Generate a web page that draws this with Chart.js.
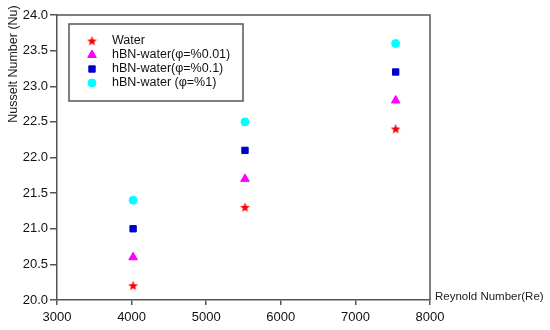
<!DOCTYPE html>
<html><head><meta charset="utf-8">
<script src="https://cdn.jsdelivr.net/npm/chart.js@4/dist/chart.umd.min.js"></script>
<style>html,body{margin:0;padding:0;background:#fff;}#wrap{width:550px;height:330px;}</style>
</head><body><div id="wrap"><canvas id="c" width="550" height="330"></canvas></div>
<script>
const reynolds = [4020, 5520, 7540];
const water = [20.2, 21.3, 22.4];
const hbn001 = [20.6, 21.7, 22.8];
const hbn01 = [21.0, 22.1, 23.2];
const hbn1 = [21.4, 22.5, 23.6];
const seriesNames = ['Water', 'hBN-water(φ=%0.01)', 'hBN-water(φ=%0.1)', 'hBN-water (φ=%1)'];
const xTitle = 'Reynold Number(Re)';
const yTitle = 'Nusselt Number (Nu)';

function starImg(color){
  const c = document.createElement('canvas'); c.width = 11; c.height = 11;
  const g = c.getContext('2d'); g.fillStyle = color; g.beginPath();
  for(let k=0;k<10;k++){
    const r = k%2===0 ? 5.2 : 2.2;
    const ang = -Math.PI/2 + k*Math.PI/5;
    const px = 5.5 + r*Math.cos(ang), py = 5.8 + r*Math.sin(ang);
    if(k===0) g.moveTo(px,py); else g.lineTo(px,py);
  }
  g.closePath(); g.fill();
  return c;
}

const styles = [
  {c:'#ff0000', s:starImg('#ff0000'), r:5},
  {c:'#ff00ff', s:'triangle', r:5},
  {c:'#0000cc', s:'rect', r:4.5},
  {c:'#00ffff', s:'circle', r:4}
];
const vals = [water, hbn001, hbn01, hbn1];
const FONT = "'Liberation Sans', Arial, sans-serif";

const datasets = vals.map((v,i)=>({
  label: seriesNames[i],
  data: reynolds.map((x,j)=>({x:x, y:v[j]})),
  pointStyle: styles[i].s,
  pointRadius: styles[i].r,
  pointHoverRadius: styles[i].r,
  backgroundColor: styles[i].c,
  borderColor: styles[i].c,
  borderWidth: 1,
  showLine: false
}));

const deco = {
  id:'deco',
  afterDraw(chart){
    const ctx = chart.ctx, a = chart.chartArea;
    ctx.save();
    ctx.strokeStyle = '#555'; ctx.lineWidth = 1.5;
    ctx.beginPath();
    ctx.moveTo(a.left, a.top); ctx.lineTo(a.right, a.top); ctx.lineTo(a.right, a.bottom);
    ctx.stroke();
    const lx = 69, ly = 24, lw = 174, lh = 77;
    ctx.fillStyle = '#fff';
    ctx.fillRect(lx, ly, lw, lh);
    ctx.strokeRect(lx, ly, lw, lh);
    ctx.font = '12.5px ' + FONT;
    ctx.textBaseline = 'middle'; ctx.textAlign = 'left';
    const rows = [41, 55, 69, 83];
    chart.data.datasets.forEach((ds,i)=>{
      ctx.fillStyle = ds.backgroundColor; ctx.strokeStyle = ds.borderColor;
      ctx.lineWidth = ds.borderWidth;
      Chart.helpers.drawPoint(ctx, {pointStyle: ds.pointStyle, radius: ds.pointRadius, borderWidth: ds.borderWidth}, 92, rows[i]);
      ctx.fillStyle = '#111';
      ctx.fillText(ds.label, 112, rows[i]);
    });
    ctx.fillStyle = '#222';
    ctx.font = '11.5px ' + FONT;
    ctx.textAlign = 'left'; ctx.textBaseline = 'middle';
    ctx.fillText(xTitle, a.right + 5, a.bottom - 3);
    ctx.save();
    ctx.translate(14, 64);
    ctx.rotate(-Math.PI/2);
    ctx.textAlign = 'center';
    ctx.font = '12.5px ' + FONT;
    ctx.fillText(yTitle, 0, 0);
    ctx.restore();
    ctx.restore();
  }
};

new Chart(document.getElementById('c'), {
  type:'scatter',
  data:{datasets},
  options:{
    responsive:false, animation:false,
    layout:{padding:{left:0, right:120, top:15, bottom:0}},
    plugins:{legend:{display:false}, tooltip:{enabled:false}},
    scales:{
      x:{
        type:'linear', min:3000, max:8000,
        afterFit(s){ s.height = 30; },
        ticks:{stepSize:1000, color:'#111', font:{family:FONT, size:13}, padding:5, maxRotation:0, callback:v=>String(v)},
        grid:{drawOnChartArea:false, tickLength:5, color:'#555', lineWidth:1.5},
        border:{color:'#555', width:1.5}
      },
      y:{
        min:20, max:24,
        afterFit(s){ s.width = 57; },
        ticks:{stepSize:0.5, color:'#111', font:{family:FONT, size:13}, padding:2, callback:v=>v.toFixed(1)},
        grid:{drawOnChartArea:false, tickLength:7, color:'#555', lineWidth:1.5},
        border:{color:'#555', width:1.5}
      }
    }
  },
  plugins:[deco]
});
</script></body></html>
